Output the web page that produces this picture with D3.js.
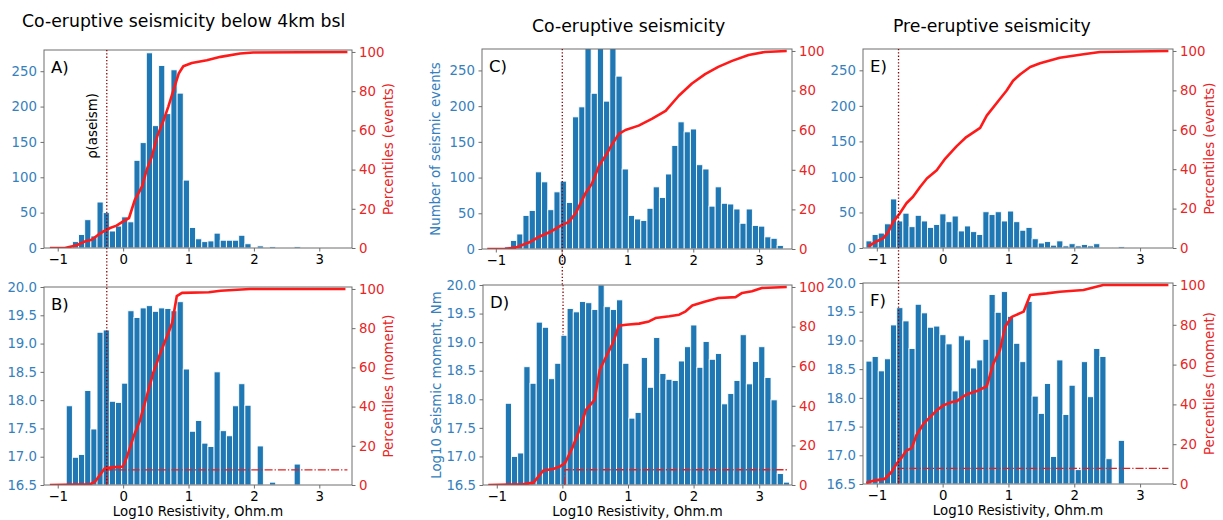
<!DOCTYPE html>
<html>
<head>
<meta charset="utf-8">
<script src="https://cdn.jsdelivr.net/npm/d3@7"></script>
<style>
  html, body { margin: 0; padding: 0; background: #fff; }
  svg text { font-family: "DejaVu Sans", sans-serif; }
</style>
</head>
<body>
<svg id="fig" width="1223" height="520"></svg>
<script>
// ---- histogram bins (log10 resistivity) ----
const coBinStart = -0.87, coBinWidth = 0.0942;     // co-eruptive catalogue
const preBinStart = -1.165, preBinWidth = 0.0935;  // pre-eruptive catalogue

// ---- event counts per bin ----
const eventsDeep = [1, 9, 19, 40, 17, 65, 50, 24, 31, 44, 37, 124, 149, 276, 173, 258, 190, 252, 219, 96,
  29, 13, 9, 10, 21, 11, 11, 11, 18, 6, 0, 3, 0, 2, 0, 0, 0, 2];
const eventsCo = [3, 12, 21, 47, 54, 108, 94, 55, 80, 95, 65, 185, 199, 315, 218, 345, 207, 330, 242, 112,
  47, 42, 40, 57, 87, 72, 105, 145, 178, 164, 168, 118, 112, 60, 87, 64, 63, 56, 36, 56, 33, 32, 17, 15, 5, 1];
const eventsPre = [10, 19, 21, 34, 69, 38, 49, 30, 46, 38, 29, 33, 48, 37, 45, 24, 31, 23, 19, 51, 47, 51,
  38, 52, 37, 25, 29, 13, 7, 9, 4, 10, 3, 6, 3, 5, 3, 6, 1, 1, 0, 2];

// ---- log10 summed seismic moment per bin (null = empty bin) ----
const momentDeep = [17.90, 16.99, 17.04, 18.17, 17.49, 19.20, 19.24, 17.98, 17.96, 18.30, 19.58, 19.46, 19.63,
  19.67, 19.57, 19.63, 19.62, 19.58, 19.74, 18.55, 17.45, 17.64, 17.24, 17.18, 18.50, 17.46, 17.37, 17.90,
  18.29, 17.91, null, 17.19, null, 16.55, null, null, null, 16.87];
const momentCo = [17.93, 17.00, 17.06, 18.57, 18.28, 19.35, 19.26, 18.36, 18.63, 19.12, 19.59, 19.53, 19.71,
  19.69, 19.57, 20.00, 19.62, 19.57, 19.74, 18.63, 17.67, 17.77, 18.73, 18.21, 19.08, 18.45, 18.35, 18.33,
  18.67, 18.92, 19.30, 18.56, 19.01, 18.70, 18.80, 17.92, 18.10, 18.33, 19.13, 18.27, 18.66, 18.92, 18.38,
  17.99, 16.70, 16.55];
const momentPre = [18.64, 18.72, 18.47, 18.68, 19.27, 19.57, 19.34, 18.86, 19.63, 19.48, 19.23, 19.25, 19.10,
  18.94, 18.12, 19.08, 19.01, 18.52, 18.66, 19.02, 19.80, 19.49, 19.85, 19.42, 18.95, 18.63, 19.68, 18.03,
  17.73, 18.25, 16.98, 18.66, 17.71, 18.22, 16.75, 18.63, 18.02, 18.86, 18.72, 16.94, null, 17.26];

// ---- cumulative percentile curves: resistivity (x) vs percent (y) ----
const pctEventsDeepX = [-1.12, -0.89, -0.71, -0.58, -0.48, -0.38, -0.30, -0.20, -0.10, 0.0, 0.09, 0.18, 0.29, 0.36,
  0.44, 0.52, 0.62, 0.69, 0.77, 0.85, 0.92, 1.05, 1.28, 1.49, 1.79, 1.99, 3.43];
const pctEventsDeepY = [0, 0, 1.4, 3.4, 4.2, 6.8, 8.5, 10.2, 11.4, 13.6, 15.3, 24.6, 31.4, 39.8, 46.6, 56.8, 65.3,
  72, 80.5, 89, 92.7, 94.4, 95.8, 97.5, 99.2, 99.7, 100];
const pctMomentDeepX = [-1.12, -0.51, -0.43, -0.28, -0.17, 0.0, 0.06, 0.16, 0.26, 0.36, 0.46, 0.57, 0.67, 0.75, 0.82,
  0.90, 1.31, 1.49, 1.94, 3.40];
const pctMomentDeepY = [0, 0.3, 1.7, 8.5, 9.0, 9.4, 14.5, 24.7, 33.2, 45.1, 57.1, 67.3, 75.8, 82.6, 96.3, 98, 98.3,
  99.1, 100, 100];
const pctEventsCoX = [-1.13, -0.85, -0.70, -0.49, -0.34, -0.17, -0.02, 0.11, 0.21, 0.36, 0.46, 0.57, 0.67, 0.77,
  0.87, 0.97, 1.17, 1.37, 1.58, 1.78, 1.98, 2.18, 2.38, 2.59, 2.84, 3.09, 3.42];
const pctEventsCoY = [0, 0, 0.7, 3.4, 6.2, 8.7, 11.7, 13.7, 17.9, 28, 33, 42.2, 47.2, 53.1, 58.1, 60.1, 62.3, 65.7,
  69.8, 77.4, 83.6, 88.3, 92, 95, 98, 99.5, 100];
const pctMomentCoX = [-1.13, -0.60, -0.44, -0.29, -0.14, -0.04, 0.04, 0.16, 0.26, 0.36, 0.49, 0.57, 0.67, 0.77, 0.86,
  0.97, 1.17, 1.32, 1.42, 1.63, 1.78, 1.88, 1.98, 2.18, 2.38, 2.64, 2.74, 2.89, 3.04, 3.42];
const pctMomentCoY = [0, 0.3, 1.2, 7.3, 8.1, 9.3, 11, 19.4, 27.8, 37.9, 43, 58.2, 65, 71.7, 80.4, 80.9, 81.5, 82.6,
  84.3, 85.2, 86, 87.7, 90.6, 92.7, 94.4, 94.9, 97, 97.8, 99.5, 100];
const pctEventsPreX = [-1.13, -1.03, -0.90, -0.83, -0.75, -0.65, -0.55, -0.45, -0.34, -0.24, -0.09, 0.04, 0.21, 0.36,
  0.57, 0.67, 0.87, 0.97, 1.07, 1.18, 1.33, 1.48, 1.78, 2.14, 2.39, 3.43];
const pctEventsPreY = [0.8, 2.9, 5, 7.9, 13.4, 17.6, 22.7, 26, 31.1, 35.3, 39.5, 45.4, 51.6, 56.3, 61, 67.2, 75.6,
  79.8, 84.9, 88.2, 91.9, 93.8, 96.6, 98.3, 99.5, 100];
const pctMomentPreX = [-1.16, -1.05, -0.88, -0.78, -0.70, -0.62, -0.55, -0.47, -0.40, -0.29, -0.19, -0.09, 0.01, 0.14,
  0.21, 0.36, 0.52, 0.67, 0.77, 0.87, 0.95, 1.05, 1.23, 1.33, 1.58, 1.78, 2.14, 2.44, 3.43];
const pctMomentPreY = [0.5, 1.7, 2.5, 5.9, 10.1, 13.4, 16.8, 18, 24.4, 30.3, 33.6, 37, 39.5, 41.2, 41.5, 45, 46.7,
  49.1, 60.5, 67.2, 79, 84, 86.6, 95, 95.8, 96.6, 97.5, 100, 100];

// ---- resistivity of the aseismic threshold, and the moment share below it ----
const aseismDeep = -0.25, aseismCo = 0.01, aseismPre = -0.67;
const belowShareDeep = 7.7, belowShareCo = 7.7, belowSharePre = 7.9;
const curveEnd = 3.43;

// ---- axis ticks ----
const xTicks = [-1, 0, 1, 2, 3];
const countTicks = [0, 50, 100, 150, 200, 250];
const momentTicks = [16.5, 17.0, 17.5, 18.0, 18.5, 19.0, 19.5, 20.0];
const pctTicks = [0, 20, 40, 60, 80, 100];

// ---- styling ----
const BLUE = "#1f77b4", LBLUE = "#3580bd", RED = "#ff1a1a", TXTRED = "#e8251f", DARKRED = "#8b0000";
const SPINE = "#6e6e6e";
const FS = 13.3;

const svg = d3.select("#fig");
let clipId = 0;

function panel(o) {
  const [x0, y0, x1, y1] = o.box;
  const x = d3.scaleLinear().domain([-1.21, 3.5]).range([x0, x1]);
  const yL = d3.scaleLinear().domain(o.yDomain).range([y1, y0]);
  const yR = d3.scaleLinear().domain([0, 101]).range([y1, y0]);
  const g = svg.append("g");
  const cid = "clip" + (clipId++);
  g.append("clipPath").attr("id", cid).append("rect")
    .attr("x", x0).attr("y", y0).attr("width", x1 - x0).attr("height", y1 - y0);
  const plot = g.append("g").attr("clip-path", `url(#${cid})`);

  // vertical threshold line kept behind the bars
  if (o.vlineBehind !== undefined) {
    plot.append("line").attr("x1", x(o.vlineBehind)).attr("x2", x(o.vlineBehind))
      .attr("y1", y0).attr("y2", y1).attr("stroke", DARKRED).attr("stroke-width", 1.3)
      .attr("stroke-dasharray", "1.3,2");
  }

  // histogram bars
  const bars = o.values.map((v, i) => ({ v, lo: o.binStart + i * o.binWidth, hi: o.binStart + (i + 1) * o.binWidth }))
    .filter(d => d.v !== null && d.v > 0);
  plot.selectAll("rect.bar").data(bars).join("rect").attr("class", "bar")
    .attr("x", d => x(d.lo)).attr("width", d => x(d.hi) - x(d.lo))
    .attr("y", d => yL(d.v)).attr("height", d => y1 - yL(d.v))
    .attr("fill", BLUE).attr("stroke", "#ffffff").attr("stroke-width", 0.9);

  // moment share below the aseismic threshold
  if (o.share !== undefined) {
    plot.append("path")
      .attr("d", `M${x(o.shareX)},${y1}L${x(o.shareX)},${yR(o.share)}L${x(curveEnd)},${yR(o.share)}`)
      .attr("fill", "none").attr("stroke", "#e02020").attr("stroke-width", 1.3)
      .attr("stroke-dasharray", "8,2,1.3,2");
  }

  // cumulative percentile curve
  const pts = o.cx.map((v, i) => [v, o.cy[i]]);
  plot.append("path").datum(pts)
    .attr("d", d3.line().x(d => x(d[0])).y(d => yR(d[1])))
    .attr("fill", "none").attr("stroke", RED).attr("stroke-width", 2.6)
    .attr("stroke-linejoin", "round");

  // frame
  g.append("rect").attr("x", x0).attr("y", y0).attr("width", x1 - x0).attr("height", y1 - y0)
    .attr("fill", "none").attr("stroke", SPINE).attr("stroke-width", 1);

  // axes
  const ax = g.append("g").attr("transform", `translate(0,${y1})`)
    .call(d3.axisBottom(x).tickValues(xTicks).tickFormat(d => d < 0 ? "\u2212" + Math.abs(d) : d).tickSize(3.5).tickPadding(3.5));
  const ay = g.append("g").attr("transform", `translate(${x0},0)`)
    .call(d3.axisLeft(yL).tickValues(o.yTicks).tickFormat(o.yFormat).tickSize(3.5).tickPadding(3.5));
  const ar = g.append("g").attr("transform", `translate(${x1},0)`)
    .call(d3.axisRight(yR).tickValues(pctTicks).tickSize(3.5).tickPadding(3.5));
  [ax, ay, ar].forEach(a => {
    a.select(".domain").remove();
    a.selectAll("line").attr("stroke", SPINE);
    a.selectAll("text").attr("font-size", FS).attr("font-family", "DejaVu Sans");
  });
  ax.selectAll("text").attr("fill", "#000");
  ay.selectAll("text").attr("fill", LBLUE);
  ar.selectAll("text").attr("fill", TXTRED);

  // panel letter
  g.append("text").attr("x", x0 + 7).attr("y", y0 + 23).attr("font-size", 16.5).attr("fill", "#000").text(o.letter);

  if (o.leftLabel) {
    g.append("text").attr("transform", `translate(${x0 - 42},${(y0 + y1) / 2}) rotate(-90)`)
      .attr("text-anchor", "middle").attr("font-size", FS).attr("fill", LBLUE).text(o.leftLabel);
  }
  if (o.rightLabel) {
    g.append("text").attr("transform", `translate(${x1 + 41},${(y0 + y1) / 2}) rotate(-90)`)
      .attr("text-anchor", "middle").attr("font-size", FS).attr("fill", TXTRED).text(o.rightLabel);
  }
  if (o.xLabel) {
    g.append("text").attr("x", (x0 + x1) / 2).attr("y", y1 + 31).attr("text-anchor", "middle")
      .attr("font-size", FS).attr("fill", "#000").text(o.xLabel);
  }
  return { x, g };
}

const fmt1 = d3.format(".1f");
const xLab = "Log10 Resistivity, Ohm.m";

const A = panel({ box: [44, 50, 352, 248], yDomain: [0, 280], yTicks: countTicks, yFormat: d => d,
  values: eventsDeep, binStart: coBinStart, binWidth: coBinWidth, cx: pctEventsDeepX, cy: pctEventsDeepY,
  letter: "A)", rightLabel: "Percentiles (events)" });
const B = panel({ box: [44, 287, 352, 485], yDomain: [16.5, 20], yTicks: momentTicks, yFormat: fmt1,
  values: momentDeep, binStart: coBinStart, binWidth: coBinWidth, cx: pctMomentDeepX, cy: pctMomentDeepY,
  letter: "B)", rightLabel: "Percentiles (moment)", xLabel: xLab, share: belowShareDeep, shareX: aseismDeep });
const C = panel({ box: [482, 49, 792, 249], yDomain: [0, 280], yTicks: countTicks, yFormat: d => d,
  values: eventsCo, binStart: coBinStart, binWidth: coBinWidth, cx: pctEventsCoX, cy: pctEventsCoY,
  letter: "C)", leftLabel: "Number of seismic events" });
const D = panel({ box: [483, 285, 792, 485], yDomain: [16.5, 20], yTicks: momentTicks, yFormat: fmt1,
  values: momentCo, binStart: coBinStart, binWidth: coBinWidth, cx: pctMomentCoX, cy: pctMomentCoY,
  letter: "D)", leftLabel: "Log10 Seismic moment, Nm", xLabel: xLab, share: belowShareCo, shareX: aseismCo + 0.025,
  vlineBehind: aseismCo });
const E = panel({ box: [863, 49, 1173, 248], yDomain: [0, 280], yTicks: countTicks, yFormat: d => d,
  values: eventsPre, binStart: preBinStart, binWidth: preBinWidth, cx: pctEventsPreX, cy: pctEventsPreY,
  letter: "E)", rightLabel: "Percentiles (events)" });
const F = panel({ box: [863, 283, 1173, 484], yDomain: [16.5, 20], yTicks: momentTicks, yFormat: fmt1,
  values: momentPre, binStart: preBinStart, binWidth: preBinWidth, cx: pctMomentPreX, cy: pctMomentPreY,
  letter: "F)", rightLabel: "Percentiles (moment)", xLabel: xLab, share: belowSharePre, shareX: aseismPre });

// aseismic threshold lines running through the stacked panels
function vline(scale, v, ya, yb) {
  svg.append("line").attr("x1", scale(v)).attr("x2", scale(v)).attr("y1", ya).attr("y2", yb)
    .attr("stroke", DARKRED).attr("stroke-width", 1.3).attr("stroke-dasharray", "1.3,2");
}
vline(A.x, aseismDeep, 50, 485);
vline(C.x, aseismCo, 49, 285);
vline(E.x, aseismPre, 49, 484);

// label of the threshold
svg.append("text").attr("transform", `translate(${A.x(aseismDeep) - 10},126) rotate(-90)`)
  .attr("text-anchor", "middle").attr("font-size", FS).attr("fill", "#000").text("\u03c1(aseism)");

// column titles
const TFS = 17.3;
svg.append("text").attr("x", 22).attr("y", 27).attr("font-size", TFS).attr("fill", "#000")
  .text("Co-eruptive seismicity below 4km bsl");
svg.append("text").attr("x", 532).attr("y", 32).attr("font-size", TFS).attr("fill", "#000")
  .text("Co-eruptive seismicity");
svg.append("text").attr("x", 893).attr("y", 32).attr("font-size", TFS).attr("fill", "#000")
  .text("Pre-eruptive seismicity");
</script>
</body>
</html>
